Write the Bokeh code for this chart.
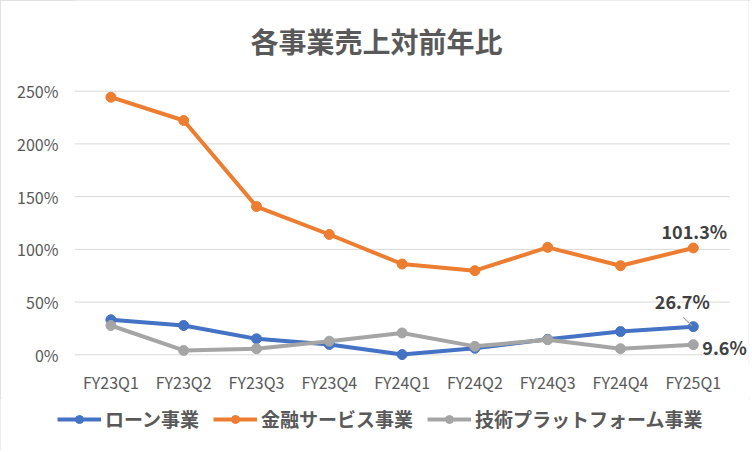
from bokeh.plotting import figure
from bokeh.layouts import column
from bokeh.models import (Range1d, FixedTicker, NumeralTickFormatter, Legend, LegendItem,
                          Label, ColumnDataSource)
from bokeh.core.properties import value
from bokeh.embed import file_html
from bokeh.resources import INLINE

# ---- data ----
categories = ["FY23Q1", "FY23Q2", "FY23Q3", "FY23Q4", "FY24Q1",
              "FY24Q2", "FY24Q3", "FY24Q4", "FY25Q1"]
loan = [0.332, 0.278, 0.152, 0.098, 0.002, 0.062, 0.147, 0.220, 0.267]
finance = [2.443, 2.222, 1.406, 1.141, 0.861, 0.798, 1.019, 0.845, 1.013]
tech = [0.278, 0.041, 0.057, 0.129, 0.207, 0.080, 0.143, 0.058, 0.096]
series_names = ["ローン事業", "金融サービス事業", "技術プラットフォーム事業"]
title_text = "各事業売上対前年比"
y_ticks = [0, 0.5, 1.0, 1.5, 2.0, 2.5]

colors = ["#4472C4", "#ED7D31", "#A5A5A5"]
xs = list(range(len(categories)))
n = len(categories)
JP = "Noto Sans CJK JP"
series = [loan, finance, tech]

# layout (pixels)
W = 750
H_MAIN, H_LEG = 398, 52
FL, FR, FT, FB = 74, 748, 0, 364          # frame edges of the main chart
PX_PER_CAT = 72.8
PX_PER_UNIT = 105.44                       # px per 1.0 (=100%)
ZERO_Y = 354.3

x_end = -0.5 + (FR - FL) / PX_PER_CAT
y_start = -(FB - ZERO_Y) / PX_PER_UNIT
y_end = (ZERO_Y - FT) / PX_PER_UNIT

p = figure(width=W, height=H_MAIN, output_backend="svg", toolbar_location=None,
           x_range=Range1d(-0.5, x_end), y_range=Range1d(y_start, y_end),
           min_border_left=FL, min_border_right=W - FR,
           min_border_top=FT, min_border_bottom=H_MAIN - FB)
p.frame_align = False
p.outline_line_color = None
p.background_fill_color = "white"
p.border_fill_color = "white"

# axes
p.xaxis.ticker = FixedTicker(ticks=xs)
p.xaxis.major_label_overrides = {i: c for i, c in enumerate(categories)}
p.yaxis.ticker = FixedTicker(ticks=y_ticks)
p.yaxis.formatter = NumeralTickFormatter(format="0%")
for ax in (p.xaxis[0], p.yaxis[0]):
    ax.axis_line_color = None
    ax.major_tick_line_color = None
    ax.minor_tick_line_color = None
    ax.major_tick_out = 0
    ax.major_tick_in = 0
    ax.major_label_text_font = JP
    ax.major_label_text_font_size = "16px"
    ax.major_label_text_color = "#595959"
p.yaxis.major_label_standoff = 16
p.xaxis.major_label_standoff = 5

# grid lines only across the category span
p.xgrid.grid_line_color = None
p.ygrid.grid_line_color = None
p.segment(x0=[-0.5] * len(y_ticks), x1=[n - 0.5] * len(y_ticks), y0=y_ticks, y1=y_ticks,
          line_color="#D9D9D9", line_width=1)

for name, vals, col in zip(series_names, series, colors):
    p.line(xs, vals, line_color=col, line_width=4, line_join="round")
    p.scatter(xs, vals, size=10, fill_color=col, line_color=col)

# data labels on last point
last = n - 1
lbl_src = ColumnDataSource(dict(
    x=[last, last, last],
    y=[finance[last], loan[last], tech[last]],
    t=[f"{v * 100:.1f}%" for v in (finance[last], loan[last], tech[last])],
    xo=[1, -11, 9],
    yo=[-17, -26, 2.5],
    al=["center", "center", "left"],
))
p.text(x="x", y="y", text="t", x_offset="xo", y_offset="yo", text_align="al",
       text_baseline="middle", text_font=value(JP), text_font_style="bold",
       text_font_size="18px", text_color="#404040", source=lbl_src)

# leader line for loan label
p.segment(x0=[last - 0.02], y0=[loan[last] + 0.01], x1=[last - 0.14], y1=[loan[last] + 0.09],
          line_color="#A5A5A5", line_width=1.2)

title = Label(x=376 - FL, y=FB - 40.5, x_units="screen", y_units="screen", text=title_text,
              text_align="center", text_baseline="middle", text_font=JP,
              text_font_size="28px", text_font_style="bold", text_color="#595959")
p.add_layout(title)

# ---- legend strip ----
pl = figure(width=W, height=H_LEG, output_backend="svg", toolbar_location=None,
            x_range=Range1d(-0.5, x_end), y_range=Range1d(y_start, y_end),
            x_axis_location=None, y_axis_location=None,
            min_border_left=0, min_border_right=0, min_border_top=0, min_border_bottom=0)
pl.frame_align = False
pl.outline_line_color = None
pl.xgrid.visible = False
pl.ygrid.visible = False
pl.background_fill_color = "white"
pl.border_fill_color = "white"
items = []
for name, vals, col in zip(series_names, series, colors):
    lr = pl.line(xs, vals, line_color=col, line_width=4, visible=False)
    sr = pl.scatter(xs, vals, size=10, fill_color=col, line_color=col, visible=False)
    items.append(LegendItem(label=name, renderers=[lr, sr]))
legend = Legend(items=items, orientation="horizontal", location=(57, 18),
                padding=0, margin=0, spacing=14, glyph_width=44, glyph_height=20,
                label_standoff=4, label_text_font=JP, label_text_font_size="19px",
                label_text_font_style="bold", label_text_color="#595959",
                background_fill_alpha=0, border_line_alpha=0,
                inactive_fill_alpha=0)
pl.add_layout(legend)

layout = column(p, pl, spacing=0,
                styles={"outline": "2px solid #d9d9d9", "outline-offset": "-2px"})

open("out.html", "w").write(file_html(layout, INLINE))
